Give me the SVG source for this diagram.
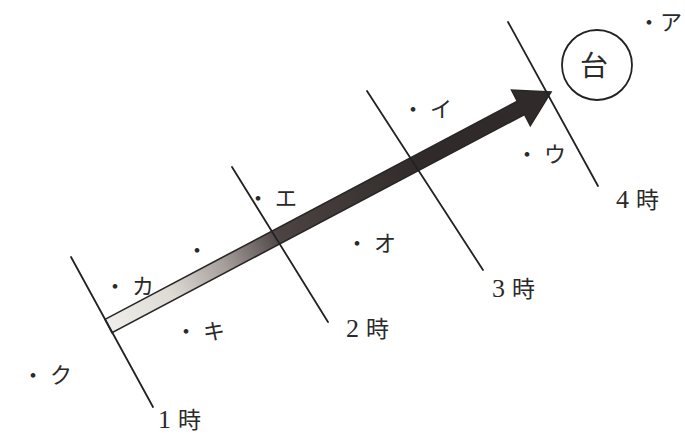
<svg xmlns="http://www.w3.org/2000/svg" width="685" height="436" viewBox="0 0 685 436">
  <style>
    .ln { stroke: #222; stroke-width: 1.8; fill: none; stroke-linecap: round; }
    .pt { font-family: "Noto Sans CJK JP", sans-serif; font-size: 22px; fill: #2a2a2a; letter-spacing: 6px; }
    .hr { font-family: "Liberation Serif", "Noto Sans CJK JP", serif; font-size: 23px; fill: #2a2a2a; letter-spacing: 7px; }
    .dg { font-size: 26px; }
    .dai { font-family: "Noto Sans CJK JP", sans-serif; font-size: 28px; fill: #2a2a2a; text-anchor: middle; }
  </style>
  <defs>
    <linearGradient id="shade" gradientUnits="userSpaceOnUse" x1="108" y1="326" x2="420" y2="162">
      <stop offset="0" stop-color="#efeeea"/>
      <stop offset="0.2" stop-color="#dedbd5"/>
      <stop offset="0.38" stop-color="#a39b98"/>
      <stop offset="0.55" stop-color="#4c4443"/>
      <stop offset="1" stop-color="#302b2a"/>
    </linearGradient>
  </defs>
  <rect width="685" height="436" fill="#ffffff"/>

  <g id="arrow">
    <polygon points="105.0,319.4 517.4,101.3 511.6,90.2 551,92 530.3,125.6 524.5,114.5 112.0,332.6" fill="url(#shade)" stroke="#2a2626" stroke-width="1.6" stroke-linejoin="miter"/>
  </g>

  <g id="connectors">
    <line class="ln" x1="71" y1="257" x2="153" y2="407"/>
    <line class="ln" x1="232" y1="167" x2="328" y2="322"/>
    <line class="ln" x1="367" y1="91" x2="483" y2="270"/>
    <line class="ln" x1="508" y1="22" x2="598" y2="186"/>
  </g>

  <g id="hour1"><text class="hr" x="158" y="428"><tspan class="dg">1</tspan>時</text></g>
  <g id="hour2"><text class="hr" x="346" y="337"><tspan class="dg">2</tspan>時</text></g>
  <g id="hour3"><text class="hr" x="492" y="297"><tspan class="dg">3</tspan>時</text></g>
  <g id="hour4"><text class="hr" x="616" y="208"><tspan class="dg">4</tspan>時</text></g>

  <g id="typhoon">
    <circle cx="597" cy="65" r="35" fill="none" stroke="#222" stroke-width="1.8"/>
    <text class="dai" x="594" y="75.5">台</text>
  </g>

  <g id="pA"><text class="pt" x="638" y="29.5" style="letter-spacing:0px">・ア</text></g>
  <g id="pI"><text class="pt" x="402" y="116.5">・イ</text></g>
  <g id="pU"><text class="pt" x="516" y="162">・ウ</text></g>
  <g id="pE"><text class="pt" x="247" y="205.5">・エ</text></g>
  <g id="pO"><text class="pt" x="346" y="250.5">・オ</text></g>
  <g id="pDot"><text class="pt" x="186" y="257.5">・</text></g>
  <g id="pKa"><text class="pt" x="104" y="294">・カ</text></g>
  <g id="pKi"><text class="pt" x="175" y="338.5">・キ</text></g>
  <g id="pKu"><text class="pt" x="22" y="382.5">・ク</text></g>
</svg>
